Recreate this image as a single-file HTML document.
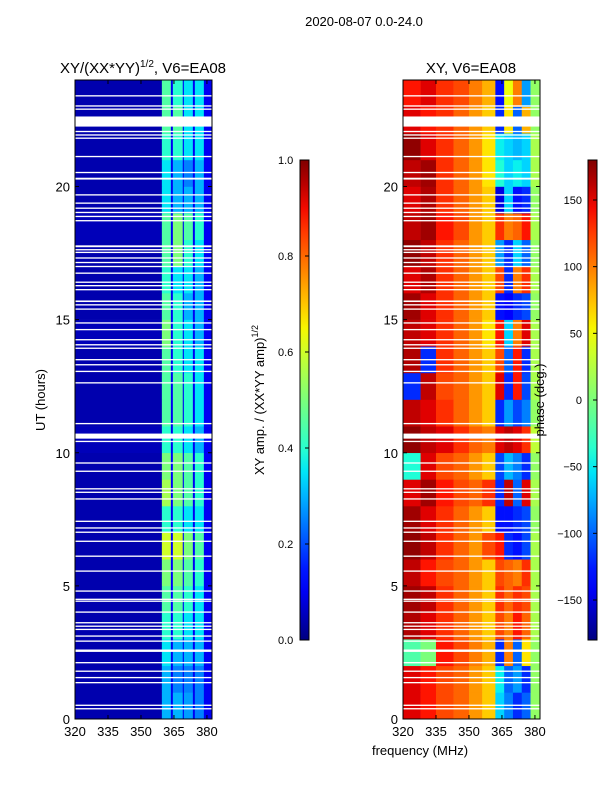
<!DOCTYPE html>
<html><head><meta charset="utf-8">
<style>
html,body{margin:0;padding:0;background:#fff;}
svg{display:block;font-family:"Liberation Sans","DejaVu Sans",sans-serif;}
</style></head>
<body>
<svg id="fig" width="600" height="800" viewBox="0 0 600 800" xmlns="http://www.w3.org/2000/svg">
<defs>
<linearGradient id="jetv" x1="0" y1="1" x2="0" y2="0"></linearGradient>
</defs>
<text x="364" y="26" font-size="13" text-anchor="middle">2020-08-07 0.0-24.0</text>
<text x="143" y="73" font-size="15" text-anchor="middle">XY/(XX*YY)<tspan font-size="10" dy="-6">1/2</tspan><tspan dy="6">, V6=EA08</tspan></text>
<text x="471" y="73" font-size="15" text-anchor="middle">XY, V6=EA08</text>
<g id="leftHeat"></g>
<g id="rightHeat"></g>
<g id="axes"></g>
<text transform="translate(45,400) rotate(-90)" font-size="13" text-anchor="middle">UT (hours)</text>
<text x="420" y="755" font-size="13" text-anchor="middle">frequency (MHz)</text>
<text transform="translate(264,400) rotate(-90)" font-size="13" text-anchor="middle">XY amp. / (XX*YY amp)<tspan font-size="9" dy="-6">1/2</tspan></text>
<text transform="translate(544,400) rotate(-90)" font-size="13" text-anchor="middle">phase (deg.)</text>
<rect x="300" y="160" width="9" height="480" fill="url(#jetv)" stroke="#000" stroke-width="1"/>
<rect x="588" y="160" width="9" height="480" fill="url(#jetv)" stroke="#000" stroke-width="1"/>
<g id="cbticks"></g>
</svg>
<script>
// ---- data ----
const ampFreqEdges = [320,359.5,363.6,364.5,369,369.5,373.6,374.5,378.6,382.3];
// hour 0..23 ; columns: background, band1, gap, band2, gap, band3, gap, band4, edge
const ampRows = [
[0.04,0.30,0.10,0.30,0.10,0.28,0.10,0.25,0.10],
[0.04,0.30,0.10,0.25,0.10,0.25,0.10,0.25,0.10],
[0.04,0.35,0.10,0.30,0.10,0.30,0.10,0.30,0.10],
[0.04,0.40,0.10,0.40,0.10,0.35,0.10,0.35,0.10],
[0.04,0.45,0.11,0.45,0.10,0.40,0.10,0.35,0.10],
[0.04,0.50,0.11,0.50,0.10,0.45,0.10,0.40,0.10],
[0.04,0.60,0.12,0.60,0.11,0.50,0.11,0.45,0.10],
[0.04,0.40,0.10,0.40,0.10,0.35,0.10,0.35,0.10],
[0.04,0.55,0.11,0.50,0.10,0.45,0.10,0.40,0.10],
[0.04,0.50,0.11,0.50,0.10,0.45,0.10,0.40,0.10],
[0.05,0.40,0.10,0.40,0.10,0.35,0.10,0.30,0.10],
[0.04,0.45,0.10,0.45,0.10,0.40,0.10,0.35,0.10],
[0.04,0.45,0.10,0.45,0.10,0.40,0.10,0.35,0.10],
[0.04,0.45,0.10,0.40,0.10,0.35,0.10,0.35,0.10],
[0.05,0.50,0.10,0.40,0.10,0.35,0.10,0.30,0.10],
[0.04,0.45,0.10,0.40,0.10,0.30,0.10,0.30,0.10],
[0.04,0.40,0.10,0.35,0.10,0.35,0.10,0.30,0.10],
[0.04,0.45,0.10,0.50,0.10,0.40,0.10,0.35,0.10],
[0.05,0.45,0.10,0.50,0.10,0.45,0.10,0.40,0.10],
[0.04,0.35,0.10,0.30,0.10,0.30,0.10,0.30,0.10],
[0.04,0.35,0.10,0.30,0.10,0.25,0.10,0.30,0.10],
[0.04,0.40,0.10,0.40,0.10,0.35,0.10,0.35,0.10],
[0.04,0.45,0.10,0.45,0.10,0.35,0.10,0.35,0.10],
[0.04,0.45,0.10,0.40,0.10,0.35,0.10,0.35,0.10]
];
const phaseFreqEdges = [320,328,335,343,350,356,362,366,370,374,378,382.3];
const phaseRows = [
[150,140,120,110,90,70,-60,-90,-120,-100,10],
[150,140,120,110,90,70,-50,-100,-80,-120,10],
[-20,0,140,120,100,80,-120,100,-100,60,10],
[165,150,130,110,90,70,120,100,140,110,20],
[170,160,130,110,90,70,130,110,130,120,20],
[160,140,120,110,90,70,120,110,100,130,20],
[175,160,130,110,90,120,140,-120,-130,-110,20],
[170,150,130,110,90,70,-130,-130,-120,-110,10],
[150,170,140,120,110,130,-120,160,-100,150,20],
[-40,150,120,110,90,70,-110,-70,-90,-120,10],
[175,160,150,130,110,100,150,160,150,130,30],
[160,150,130,110,90,70,-120,-80,-110,-90,10],
[-120,160,120,110,90,70,150,-120,140,-110,20],
[165,-120,130,110,90,70,120,-100,140,-120,20],
[160,150,130,110,90,60,140,-60,100,150,20],
[170,150,130,110,90,70,-130,-140,-120,-110,10],
[150,165,130,110,90,70,120,-120,100,130,20],
[175,160,130,110,90,70,-80,-120,-60,-100,10],
[160,170,140,120,90,70,130,100,110,140,20],
[150,165,130,110,90,70,-150,-60,-130,-120,10],
[160,170,130,110,90,60,-40,-60,-50,-60,20],
[175,150,130,110,90,60,-50,-60,-70,-60,20],
[150,140,130,110,90,70,-120,60,-100,80,10],
[140,150,130,120,100,80,-130,50,100,-80,10]
];
// flagged (blank) time intervals, hours [start,end]
const gapStarts = [0.36,0.49,1.34,1.53,1.77,2.09,2.52,2.9,3.09,3.34,3.46,3.59,3.99,4.4,4.47,4.78,5.53,6.09,6.65,6.99,7.15,7.40,8.24,8.49,8.62,9.28,9.59,10.4,10.53,11.07,12.6,13.03,13.28,13.47,13.9,14.03,14.22,14.6,14.85,15.37,15.53,15.66,16.1,16.25,16.38,16.72,16.97,17.12,17.29,17.5,17.6,17.72,18.69,18.85,19.0,19.16,19.35,19.66,20.26,20.5,21.1,21.79,21.91,22.04,22.25,22.88,23.0,23.38];
const gapEnds   = [0.41,0.54,1.39,1.58,1.82,2.14,2.61,2.95,3.14,3.39,3.51,3.64,4.04,4.45,4.52,4.83,5.58,6.14,6.70,7.04,7.20,7.45,8.29,8.54,8.67,9.33,9.64,10.45,10.72,11.12,12.65,13.08,13.33,13.52,13.95,14.08,14.27,14.65,14.9,15.42,15.58,15.72,16.15,16.3,16.43,16.77,17.02,17.17,17.34,17.55,17.65,17.79,18.74,18.9,19.05,19.21,19.4,19.71,20.33,20.55,21.15,21.84,21.96,22.09,22.63,22.93,23.05,23.43];
const yTicks = [0,5,10,15,20];
const xTicks = [320,335,350,365,380];
const ampCbTicks = [0.0,0.2,0.4,0.6,0.8,1.0];
const phaseCbTicks = [-150,-100,-50,0,50,100,150];

// ---- helpers ----
const NS = "http://www.w3.org/2000/svg";
function jet(v){
  v=Math.max(0,Math.min(1,v));
  function interp(pts){for(let i=1;i<pts.length;i++){if(v<=pts[i][0]){const a=pts[i-1],b=pts[i];return a[1]+(b[1]-a[1])*(v-a[0])/(b[0]-a[0]);}}return pts[pts.length-1][1];}
  const r=interp([[0,0],[0.35,0],[0.66,1],[0.89,1],[1,0.5]]);
  const g=interp([[0,0],[0.125,0],[0.375,1],[0.64,1],[0.91,0],[1,0]]);
  const b=interp([[0,0.5],[0.11,1],[0.34,1],[0.65,0],[1,0]]);
  return `rgb(${Math.round(r*255)},${Math.round(g*255)},${Math.round(b*255)})`;
}
const yTop=80, yBot=719, hMax=24;
function yScale(h){return yBot-(h/hMax)*(yBot-yTop);}
function xScaleL(f){return 75+(f-320)*(137/62.3);}
function xScaleR(f){return 403+(f-320)*(137/62.3);}
function mk(tag,attrs,parent){const e=document.createElementNS(NS,tag);for(const k in attrs)e.setAttribute(k,attrs[k]);parent.appendChild(e);return e;}

// gradient
const grad=document.getElementById('jetv');
for(let i=0;i<=20;i++){const s=document.createElementNS(NS,'stop');s.setAttribute('offset',(i/20));s.setAttribute('stop-color',jet(i/20));grad.appendChild(s);}

// heatmaps
const L=document.getElementById('leftHeat'), R=document.getElementById('rightHeat');
ampRows.forEach((row,h)=>{
  row.forEach((v,c)=>{
    const x0=xScaleL(ampFreqEdges[c]),x1=xScaleL(ampFreqEdges[c+1]);
    const r=mk('rect',{x:x0,y:yScale(h+1),width:x1-x0+0.3,height:yScale(h)-yScale(h+1)+0.3,fill:jet(v)},L);
    
    
  });
});
phaseRows.forEach((row,h)=>{
  row.forEach((v,c)=>{
    const x0=xScaleR(phaseFreqEdges[c]),x1=xScaleR(phaseFreqEdges[c+1]);
    const r=mk('rect',{x:x0,y:yScale(h+1),width:x1-x0+0.3,height:yScale(h)-yScale(h+1)+0.3,fill:jet((v+180)/360)},R);
    
    
  });
});
// flagged gaps
gapStarts.forEach((s,i)=>{
  const y0=yScale(gapEnds[i]),y1=yScale(s);
  [[75,L],[403,R]].forEach(([x,p])=>{
    const r=mk('rect',{x:x,y:y0,width:137,height:Math.max(1,y1-y0),fill:'#fff'},p);
    
    
  });
});

// axes
const A=document.getElementById('axes');
[75,403].forEach((x0,pi)=>{
  const fr=mk('rect',{x:x0,y:yTop,width:137,height:yBot-yTop,fill:'none',stroke:'#000','stroke-width':1},A);
  
  
  const xs=pi?xScaleR:xScaleL;
  yTicks.forEach(t=>{
    const y=yScale(t);
    const tk=mk('line',{x1:x0,x2:x0+4,y1:y,y2:y,stroke:'#000'},A);
    
    
    const tk2=mk('line',{x1:x0+137,x2:x0+133,y1:y,y2:y,stroke:'#000'},A);
    
    
    const lb=mk('text',{x:x0-5,y:y+5,'font-size':13,'text-anchor':'end'},A);
    lb.textContent=t;
    
    
  });
  xTicks.forEach(t=>{
    const x=xs(t);
    const tk=mk('line',{x1:x,x2:x,y1:yBot,y2:yBot-4,stroke:'#000'},A);
    
    
    const tk2=mk('line',{x1:x,x2:x,y1:yTop,y2:yTop+4,stroke:'#000'},A);
    
    
    const lb=mk('text',{x:x,y:yBot+17,'font-size':13,'text-anchor':'middle'},A);
    lb.textContent=t;
    
    
  });
});

// colorbar ticks
const C=document.getElementById('cbticks');
ampCbTicks.forEach(t=>{
  const y=640-t*480;
  const tk=mk('line',{x1:305,x2:309,y1:y,y2:y,stroke:'#000'},C);
  
  
  const lb=mk('text',{x:278,y:y+4,'font-size':11},C);
  lb.textContent=t.toFixed(1);
  
  
});
phaseCbTicks.forEach(t=>{
  const y=400-t*(480/360);
  const tk=mk('line',{x1:593,x2:597,y1:y,y2:y,stroke:'#000'},C);
  
  
  const lb=mk('text',{x:582,y:y+4,'font-size':11,'text-anchor':'end'},C);
  lb.textContent=t<0?'\u2212'+Math.abs(t):String(t);
  
  
});
</script>
</body></html>
